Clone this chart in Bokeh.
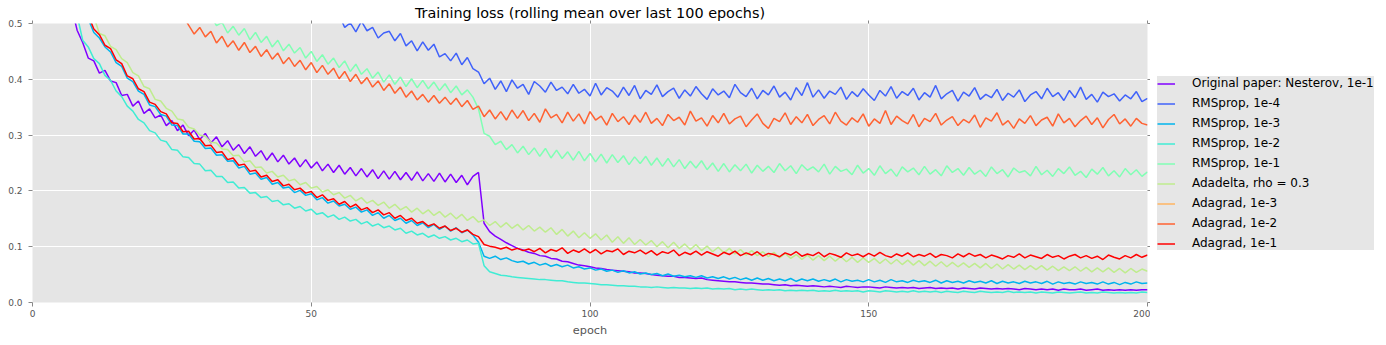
import numpy as np
from bokeh.plotting import figure
from bokeh.layouts import row
from bokeh.models import (Legend, LegendItem, LinearAxis, FixedTicker,
                          PrintfTickFormatter, Range1d)
from bokeh.embed import file_html
from bokeh.resources import INLINE

title_text = "Training loss (rolling mean over last 100 epochs)"
x_label = "epoch"
x_ticks = [0, 50, 100, 150, 200]
y_ticks = [0.0, 0.1, 0.2, 0.3, 0.4, 0.5]

labels = ["Original paper: Nesterov, 1e-1", "RMSprop, 1e-4", "RMSprop, 1e-3",
          "RMSprop, 1e-2", "RMSprop, 1e-1", "Adadelta, rho = 0.3",
          "Adagrad, 1e-3", "Adagrad, 1e-2", "Adagrad, 1e-1"]
colors = ["#8000ff", "#4062fa", "#00b4ec", "#40ecd4", "#80ffb4",
          "#bfec8e", "#ffb462", "#ff6232", "#ff0000"]

# first epoch of each series (values before it are above the visible range)
nesterov_1e1_start = 7
nesterov_1e1 = [
    0.530, 0.488, 0.466, 0.438, 0.433, 0.411, 0.416, 0.397, 0.394, 0.371,
    0.373, 0.352, 0.361, 0.339, 0.347, 0.331, 0.336, 0.317, 0.326, 0.308,
    0.318, 0.299, 0.309, 0.292, 0.303, 0.286, 0.297, 0.279, 0.290, 0.273,
    0.283, 0.267, 0.279, 0.262, 0.272, 0.255, 0.268, 0.252, 0.264, 0.248,
    0.259, 0.243, 0.256, 0.241, 0.252, 0.236, 0.248, 0.233, 0.246, 0.230,
    0.242, 0.227, 0.240, 0.225, 0.238, 0.222, 0.236, 0.221, 0.235, 0.220,
    0.233, 0.219, 0.234, 0.218, 0.231, 0.217, 0.232, 0.216, 0.230, 0.215,
    0.228, 0.211, 0.226, 0.233, 0.142, 0.127, 0.119, 0.113, 0.107, 0.102,
    0.097, 0.094, 0.090, 0.088, 0.084, 0.083, 0.079, 0.078, 0.074, 0.073,
    0.070, 0.067, 0.066, 0.064, 0.062, 0.061, 0.059, 0.058, 0.057, 0.056,
    0.055, 0.053, 0.053, 0.052, 0.050, 0.049, 0.048, 0.047, 0.047, 0.045,
    0.045, 0.044, 0.043, 0.044, 0.041, 0.040, 0.039, 0.038, 0.037, 0.037,
    0.036, 0.035, 0.035, 0.034, 0.033, 0.033, 0.032, 0.031, 0.032, 0.030,
    0.031, 0.030, 0.029, 0.030, 0.029, 0.028, 0.029, 0.028, 0.027, 0.029,
    0.028, 0.027, 0.028, 0.028, 0.027, 0.026, 0.028, 0.027, 0.026, 0.027,
    0.026, 0.027, 0.025, 0.026, 0.027, 0.025, 0.026, 0.025, 0.026, 0.024,
    0.026, 0.025, 0.024, 0.026, 0.025, 0.024, 0.025, 0.024, 0.025, 0.024,
    0.023, 0.025, 0.024, 0.023, 0.024, 0.023, 0.024, 0.022, 0.024, 0.023,
    0.023, 0.024, 0.022, 0.023, 0.024, 0.022, 0.023, 0.022, 0.023, 0.022,
    0.023, 0.022, 0.023, 0.023]

rmsprop_1e4_start = 55
rmsprop_1e4 = [
    0.515, 0.493, 0.501, 0.485, 0.504, 0.487, 0.493, 0.474, 0.483, 0.486,
    0.469, 0.482, 0.460, 0.469, 0.451, 0.467, 0.452, 0.463, 0.440, 0.446,
    0.433, 0.447, 0.426, 0.439, 0.419, 0.413, 0.392, 0.402, 0.382, 0.397,
    0.378, 0.399, 0.384, 0.391, 0.373, 0.396, 0.388, 0.377, 0.395, 0.380,
    0.386, 0.374, 0.391, 0.375, 0.382, 0.370, 0.393, 0.372, 0.385, 0.379,
    0.368, 0.386, 0.371, 0.389, 0.365, 0.380, 0.373, 0.390, 0.369, 0.378,
    0.384, 0.366, 0.381, 0.370, 0.387, 0.374, 0.364, 0.383, 0.372, 0.379,
    0.367, 0.391, 0.376, 0.369, 0.384, 0.365, 0.380, 0.372, 0.388, 0.368,
    0.377, 0.363, 0.385, 0.371, 0.394, 0.368, 0.381, 0.366, 0.379, 0.373,
    0.386, 0.364, 0.378, 0.369, 0.383, 0.372, 0.362, 0.380, 0.370, 0.387,
    0.366, 0.378, 0.371, 0.384, 0.363, 0.376, 0.368, 0.389, 0.365, 0.374,
    0.380, 0.361, 0.377, 0.370, 0.385, 0.364, 0.373, 0.367, 0.382, 0.362,
    0.375, 0.368, 0.381, 0.360, 0.372, 0.378, 0.365, 0.384, 0.369, 0.376,
    0.362, 0.380, 0.367, 0.386, 0.364, 0.373, 0.359, 0.377, 0.369, 0.374,
    0.361, 0.372, 0.365, 0.378, 0.360, 0.366]

rmsprop_1e3_start = 10
rmsprop_1e3 = [
    0.508, 0.484, 0.474, 0.458, 0.449, 0.430, 0.423, 0.402, 0.396, 0.379,
    0.373, 0.354, 0.351, 0.337, 0.334, 0.318, 0.317, 0.302, 0.302, 0.289,
    0.288, 0.276, 0.277, 0.264, 0.265, 0.253, 0.254, 0.241, 0.244, 0.230,
    0.232, 0.221, 0.224, 0.212, 0.215, 0.205, 0.207, 0.197, 0.201, 0.192,
    0.195, 0.184, 0.188, 0.178, 0.182, 0.173, 0.176, 0.167, 0.171, 0.162,
    0.166, 0.156, 0.161, 0.151, 0.156, 0.147, 0.151, 0.142, 0.147, 0.138,
    0.143, 0.134, 0.140, 0.131, 0.137, 0.128, 0.134, 0.125, 0.130, 0.121,
    0.108, 0.083, 0.079, 0.083, 0.077, 0.080, 0.075, 0.072, 0.074, 0.069,
    0.072, 0.067, 0.070, 0.065, 0.068, 0.064, 0.067, 0.062, 0.064, 0.060,
    0.062, 0.058, 0.060, 0.056, 0.058, 0.054, 0.057, 0.053, 0.055, 0.051,
    0.053, 0.050, 0.052, 0.048, 0.051, 0.047, 0.049, 0.046, 0.048, 0.045,
    0.048, 0.044, 0.046, 0.043, 0.046, 0.042, 0.045, 0.041, 0.044, 0.040,
    0.044, 0.040, 0.043, 0.039, 0.042, 0.039, 0.043, 0.038, 0.042, 0.039,
    0.042, 0.038, 0.041, 0.038, 0.042, 0.037, 0.041, 0.038, 0.040, 0.037,
    0.041, 0.037, 0.040, 0.036, 0.041, 0.037, 0.039, 0.036, 0.040, 0.037,
    0.039, 0.036, 0.040, 0.035, 0.039, 0.036, 0.038, 0.035, 0.039, 0.036,
    0.038, 0.035, 0.039, 0.034, 0.038, 0.035, 0.037, 0.034, 0.038, 0.035,
    0.037, 0.034, 0.038, 0.033, 0.037, 0.034, 0.036, 0.033, 0.037, 0.034,
    0.036, 0.033, 0.037, 0.033, 0.036, 0.032, 0.036, 0.033, 0.037, 0.034,
    0.035]

rmsprop_1e2_start = 8
rmsprop_1e2 = [
    0.515, 0.470, 0.458, 0.437, 0.428, 0.407, 0.398, 0.379, 0.369, 0.352,
    0.343, 0.328, 0.322, 0.308, 0.304, 0.291, 0.288, 0.274, 0.273, 0.261,
    0.260, 0.249, 0.248, 0.236, 0.237, 0.226, 0.226, 0.215, 0.216, 0.205,
    0.206, 0.196, 0.197, 0.188, 0.190, 0.181, 0.183, 0.175, 0.177, 0.169,
    0.172, 0.164, 0.167, 0.158, 0.161, 0.153, 0.157, 0.149, 0.153, 0.146,
    0.149, 0.141, 0.145, 0.137, 0.141, 0.134, 0.137, 0.130, 0.133, 0.124,
    0.128, 0.121, 0.124, 0.117, 0.121, 0.115, 0.118, 0.112, 0.115, 0.109,
    0.112, 0.105, 0.106, 0.066, 0.055, 0.052, 0.049, 0.048, 0.046, 0.045,
    0.044, 0.043, 0.042, 0.041, 0.041, 0.040, 0.039, 0.039, 0.037, 0.036,
    0.035, 0.035, 0.034, 0.033, 0.032, 0.032, 0.031, 0.030, 0.030, 0.029,
    0.029, 0.028, 0.028, 0.027, 0.028, 0.027, 0.026, 0.027, 0.026, 0.026,
    0.025, 0.026, 0.025, 0.026, 0.024, 0.025, 0.024, 0.025, 0.023, 0.024,
    0.023, 0.024, 0.023, 0.022, 0.023, 0.022, 0.023, 0.021, 0.022, 0.021,
    0.022, 0.021, 0.022, 0.020, 0.021, 0.020, 0.022, 0.020, 0.021, 0.020,
    0.021, 0.019, 0.021, 0.020, 0.019, 0.021, 0.020, 0.019, 0.020, 0.019,
    0.021, 0.019, 0.020, 0.019, 0.020, 0.018, 0.020, 0.019, 0.018, 0.020,
    0.019, 0.018, 0.020, 0.019, 0.018, 0.019, 0.018, 0.020, 0.018, 0.019,
    0.018, 0.019, 0.017, 0.019, 0.018, 0.017, 0.019, 0.018, 0.017, 0.018,
    0.019, 0.017, 0.018, 0.017, 0.019, 0.018, 0.017, 0.018, 0.017, 0.018,
    0.017, 0.019, 0.018]

rmsprop_1e1_start = 32
rmsprop_1e1 = [
    0.514, 0.496, 0.502, 0.483, 0.495, 0.479, 0.491, 0.471, 0.484, 0.466,
    0.477, 0.458, 0.470, 0.451, 0.463, 0.447, 0.457, 0.438, 0.450, 0.432,
    0.444, 0.427, 0.438, 0.421, 0.433, 0.414, 0.427, 0.409, 0.419, 0.402,
    0.413, 0.395, 0.408, 0.391, 0.404, 0.387, 0.401, 0.385, 0.398, 0.383,
    0.395, 0.380, 0.392, 0.376, 0.388, 0.372, 0.381, 0.368, 0.347, 0.303,
    0.298, 0.283, 0.289, 0.274, 0.283, 0.268, 0.280, 0.265, 0.277, 0.262,
    0.276, 0.259, 0.273, 0.258, 0.270, 0.255, 0.271, 0.254, 0.267, 0.252,
    0.266, 0.250, 0.265, 0.251, 0.263, 0.247, 0.261, 0.249, 0.262, 0.246,
    0.259, 0.244, 0.258, 0.243, 0.256, 0.240, 0.253, 0.241, 0.254, 0.238,
    0.250, 0.235, 0.249, 0.234, 0.247, 0.236, 0.248, 0.232, 0.246, 0.235,
    0.244, 0.233, 0.249, 0.236, 0.245, 0.231, 0.247, 0.237, 0.243, 0.234,
    0.248, 0.230, 0.244, 0.235, 0.239, 0.229, 0.246, 0.232, 0.240, 0.228,
    0.245, 0.231, 0.239, 0.226, 0.243, 0.234, 0.241, 0.229, 0.244, 0.230,
    0.238, 0.227, 0.245, 0.233, 0.240, 0.228, 0.242, 0.230, 0.237, 0.226,
    0.243, 0.231, 0.238, 0.225, 0.241, 0.233, 0.236, 0.227, 0.244, 0.229,
    0.237, 0.226, 0.240, 0.231, 0.243, 0.228, 0.235, 0.224, 0.239, 0.230,
    0.242, 0.227, 0.236, 0.225, 0.240, 0.229, 0.238, 0.226, 0.234]

adadelta_start = 11
adadelta = [
    0.512, 0.482, 0.478, 0.459, 0.453, 0.437, 0.430, 0.412, 0.406, 0.387,
    0.383, 0.364, 0.361, 0.348, 0.343, 0.329, 0.327, 0.314, 0.311, 0.300,
    0.298, 0.287, 0.286, 0.275, 0.274, 0.263, 0.264, 0.252, 0.254, 0.242,
    0.243, 0.232, 0.235, 0.225, 0.228, 0.218, 0.221, 0.211, 0.215, 0.205,
    0.208, 0.198, 0.202, 0.193, 0.197, 0.187, 0.192, 0.182, 0.188, 0.178,
    0.183, 0.174, 0.180, 0.169, 0.176, 0.166, 0.172, 0.162, 0.169, 0.159,
    0.166, 0.156, 0.163, 0.153, 0.160, 0.150, 0.158, 0.147, 0.154, 0.144,
    0.148, 0.138, 0.145, 0.135, 0.143, 0.133, 0.140, 0.130, 0.138, 0.128,
    0.135, 0.126, 0.134, 0.122, 0.131, 0.119, 0.128, 0.116, 0.125, 0.115,
    0.123, 0.112, 0.121, 0.108, 0.118, 0.106, 0.116, 0.104, 0.113, 0.103,
    0.111, 0.100, 0.109, 0.098, 0.108, 0.097, 0.105, 0.095, 0.104, 0.093,
    0.101, 0.091, 0.099, 0.089, 0.097, 0.087, 0.095, 0.085, 0.093, 0.084,
    0.091, 0.082, 0.090, 0.080, 0.088, 0.079, 0.086, 0.077, 0.085, 0.076,
    0.084, 0.075, 0.083, 0.074, 0.082, 0.073, 0.081, 0.072, 0.080, 0.072,
    0.079, 0.070, 0.078, 0.069, 0.077, 0.068, 0.076, 0.067, 0.075, 0.066,
    0.074, 0.065, 0.073, 0.064, 0.072, 0.064, 0.071, 0.063, 0.070, 0.062,
    0.070, 0.061, 0.069, 0.060, 0.068, 0.060, 0.067, 0.059, 0.066, 0.059,
    0.066, 0.058, 0.065, 0.057, 0.064, 0.057, 0.064, 0.056, 0.063, 0.055,
    0.062, 0.055, 0.062, 0.054, 0.061, 0.053, 0.061, 0.054, 0.060, 0.056]

# Adagrad 1e-3 stays above the visible range for the whole run
adagrad_1e3_epochs = [0, 20, 40, 60, 80, 100, 120, 140, 160, 180, 200]
adagrad_1e3 = [1.20, 0.95, 0.84, 0.77, 0.70, 0.66, 0.63, 0.61, 0.60, 0.59, 0.58]

adagrad_1e2_start = 27
adagrad_1e2 = [
    0.514, 0.497, 0.481, 0.493, 0.476, 0.486, 0.465, 0.477, 0.458, 0.469,
    0.452, 0.466, 0.448, 0.459, 0.441, 0.453, 0.436, 0.447, 0.428, 0.439,
    0.423, 0.434, 0.417, 0.430, 0.412, 0.425, 0.409, 0.420, 0.401, 0.414,
    0.396, 0.409, 0.392, 0.403, 0.386, 0.397, 0.380, 0.392, 0.375, 0.386,
    0.368, 0.379, 0.363, 0.373, 0.359, 0.371, 0.357, 0.368, 0.355, 0.366,
    0.351, 0.362, 0.346, 0.352, 0.333, 0.345, 0.329, 0.342, 0.327, 0.345,
    0.330, 0.344, 0.326, 0.339, 0.323, 0.347, 0.331, 0.337, 0.322, 0.341,
    0.325, 0.338, 0.320, 0.342, 0.327, 0.334, 0.318, 0.339, 0.324, 0.333,
    0.319, 0.336, 0.323, 0.341, 0.321, 0.330, 0.317, 0.337, 0.326, 0.332,
    0.318, 0.343, 0.325, 0.331, 0.316, 0.335, 0.322, 0.339, 0.320, 0.329,
    0.334, 0.315, 0.327, 0.338, 0.321, 0.312, 0.330, 0.324, 0.340, 0.319,
    0.333, 0.322, 0.337, 0.317, 0.328, 0.335, 0.320, 0.341, 0.325, 0.318,
    0.331, 0.323, 0.338, 0.316, 0.329, 0.321, 0.344, 0.319, 0.334, 0.326,
    0.320, 0.337, 0.315, 0.330, 0.324, 0.339, 0.318, 0.327, 0.333, 0.317,
    0.328, 0.322, 0.336, 0.314, 0.331, 0.325, 0.340, 0.318, 0.326, 0.312,
    0.329, 0.321, 0.335, 0.317, 0.327, 0.332, 0.316, 0.338, 0.322, 0.330,
    0.315, 0.326, 0.334, 0.319, 0.331, 0.313, 0.328, 0.337, 0.320, 0.329,
    0.316, 0.330, 0.321, 0.318]

adagrad_1e1_start = 10
adagrad_1e1 = [
    0.515, 0.490, 0.480, 0.461, 0.455, 0.435, 0.428, 0.406, 0.401, 0.383,
    0.378, 0.359, 0.355, 0.342, 0.338, 0.322, 0.321, 0.306, 0.307, 0.293,
    0.294, 0.281, 0.282, 0.269, 0.270, 0.256, 0.259, 0.246, 0.248, 0.235,
    0.237, 0.225, 0.228, 0.217, 0.220, 0.209, 0.212, 0.202, 0.205, 0.196,
    0.199, 0.188, 0.193, 0.183, 0.186, 0.176, 0.181, 0.171, 0.176, 0.166,
    0.170, 0.161, 0.166, 0.157, 0.161, 0.151, 0.156, 0.147, 0.151, 0.142,
    0.145, 0.137, 0.141, 0.133, 0.137, 0.129, 0.133, 0.126, 0.130, 0.122,
    0.118, 0.104, 0.101, 0.099, 0.096, 0.099, 0.094, 0.097, 0.093, 0.096,
    0.091, 0.097, 0.089, 0.095, 0.092, 0.098, 0.088, 0.094, 0.090, 0.096,
    0.089, 0.095, 0.087, 0.093, 0.091, 0.096, 0.086, 0.092, 0.089, 0.094,
    0.087, 0.093, 0.085, 0.091, 0.088, 0.094, 0.084, 0.090, 0.086, 0.092,
    0.085, 0.091, 0.087, 0.083, 0.090, 0.086, 0.092, 0.084, 0.089, 0.085,
    0.091, 0.083, 0.088, 0.086, 0.082, 0.089, 0.085, 0.091, 0.083, 0.087,
    0.084, 0.090, 0.082, 0.088, 0.085, 0.081, 0.089, 0.084, 0.087, 0.082,
    0.088, 0.083, 0.090, 0.084, 0.081, 0.087, 0.083, 0.089, 0.082, 0.086,
    0.083, 0.088, 0.081, 0.086, 0.084, 0.080, 0.087, 0.082, 0.088, 0.083,
    0.086, 0.080, 0.085, 0.082, 0.078, 0.084, 0.081, 0.087, 0.080, 0.085,
    0.082, 0.079, 0.086, 0.081, 0.084, 0.078, 0.083, 0.086, 0.080, 0.084,
    0.079, 0.083, 0.077, 0.085, 0.081, 0.078, 0.084, 0.080, 0.086, 0.081,
    0.085]


def epochs_from(start, vals):
    return list(start + np.arange(len(vals)))


series_x = [
    epochs_from(nesterov_1e1_start, nesterov_1e1),
    epochs_from(rmsprop_1e4_start, rmsprop_1e4),
    epochs_from(rmsprop_1e3_start, rmsprop_1e3),
    epochs_from(rmsprop_1e2_start, rmsprop_1e2),
    epochs_from(rmsprop_1e1_start, rmsprop_1e1),
    epochs_from(adadelta_start, adadelta),
    adagrad_1e3_epochs,
    epochs_from(adagrad_1e2_start, adagrad_1e2),
    epochs_from(adagrad_1e1_start, adagrad_1e1),
]
series_y = [nesterov_1e1, rmsprop_1e4, rmsprop_1e3, rmsprop_1e2, rmsprop_1e1,
            adadelta, adagrad_1e3, adagrad_1e2, adagrad_1e1]

FONT = "DejaVu Sans"
TICK_COL = "#888888"
LAB_COL = "#555555"
LINE_W = 1.5

p = figure(width=1150, height=345, output_backend="svg", toolbar_location=None,
           x_range=Range1d(0, 200), y_range=Range1d(0, 0.5),
           min_border_left=32, min_border_right=0, min_border_top=23,
           min_border_bottom=43, background_fill_color="#e5e5e5",
           border_fill_color="white", outline_line_color=None)

p.title.text = title_text
p.title.align = "center"
p.title.text_font = FONT
p.title.text_font_size = "14.4px"
p.title.text_font_style = "normal"
p.title.text_color = "black"
p.title.standoff = 0
p.title.offset = 0

xt = FixedTicker(ticks=x_ticks)
yt = FixedTicker(ticks=y_ticks)

for ax in p.xaxis:
    ax.ticker = xt
    ax.axis_label = x_label
for ax in p.yaxis:
    ax.ticker = yt
    ax.formatter = PrintfTickFormatter(format="%.1f")

for ax in list(p.xaxis) + list(p.yaxis):
    ax.axis_line_color = None
    ax.major_tick_line_color = TICK_COL
    ax.major_tick_out = 4
    ax.major_tick_in = 0
    ax.minor_tick_line_color = None
    ax.major_label_text_font = FONT
    ax.major_label_text_font_size = "9px"
    ax.major_label_text_color = LAB_COL
    ax.axis_label_text_font = FONT
    ax.axis_label_text_font_size = "11.3px"
    ax.axis_label_text_font_style = "normal"
    ax.axis_label_text_color = LAB_COL

for ax in p.xaxis:
    ax.major_label_standoff = 3
    ax.axis_label_standoff = 4
for ax in p.yaxis:
    ax.major_label_standoff = 6

p.xgrid.ticker = xt
p.ygrid.ticker = yt
p.grid.grid_line_color = "white"
p.grid.grid_line_width = 1

# tick marks only on the top and right edges (no labels)
top_ax = LinearAxis(ticker=xt, axis_line_color=None, major_tick_line_color=TICK_COL,
                    major_tick_out=3, major_tick_in=0, minor_tick_line_color=None,
                    major_label_overrides={t: "" for t in x_ticks},
                    major_label_standoff=0)
right_ax = LinearAxis(ticker=yt, axis_line_color=None, major_tick_line_color=TICK_COL,
                      major_tick_out=3, major_tick_in=0, minor_tick_line_color=None,
                      major_label_overrides={t: "" for t in y_ticks},
                      major_label_standoff=0)
p.add_layout(top_ax, "above")
p.add_layout(right_ax, "right")

for xs, ys, col in zip(series_x, series_y, colors):
    p.line(xs, ys, line_color=col, line_width=LINE_W)

# legend lives in a narrow companion figure to the right of the plot;
# its ranges lie outside the data, so only the legend itself is visible
pl = figure(width=236, height=345, output_backend="svg", toolbar_location=None,
            x_axis_type=None, y_axis_type=None, min_border=0,
            outline_line_color=None, background_fill_color="white",
            border_fill_color="white", x_range=Range1d(-20, -10),
            y_range=Range1d(-20, -10))
items = []
for xs, ys, lab, col in zip(series_x, series_y, labels, colors):
    r = pl.line(xs, ys, line_color=col, line_width=LINE_W)
    items.append(LegendItem(label=lab, renderers=[r]))

legend = Legend(items=items, location=(7, 52),
                background_fill_color="#e5e5e5", border_line_color=None,
                label_text_font=FONT, label_text_font_size="12px",
                label_text_color="black", glyph_width=18, glyph_height=13,
                label_height=13, label_width=180, spacing=6, padding=5,
                margin=0, label_standoff=17)
pl.add_layout(legend, "center")

layout = row(p, pl, spacing=0)
open("out.html", "w").write(file_html(layout, INLINE))
